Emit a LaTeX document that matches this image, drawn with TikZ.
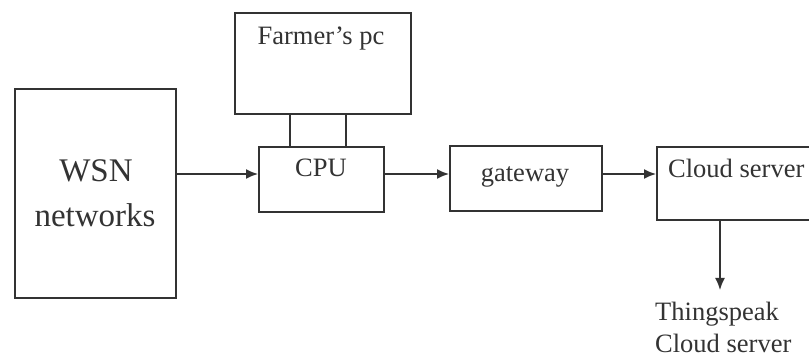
\documentclass[tikz,border=0pt]{standalone}
\usepackage{fontspec}
\setmainfont{Liberation Serif}
\usetikzlibrary{arrows.meta}
\definecolor{ink}{HTML}{333333}
\begin{document}
\begin{tikzpicture}[x=1pt,y=-1pt,
  box/.style={draw=ink,line width=1.6pt,rectangle,inner sep=0pt,anchor=north west},
  lbl/.style={text=ink,font=\fontsize{26.5}{30}\selectfont,anchor=base,inner sep=0pt},
  conn/.style={draw=ink,line width=1.6pt},
  arr/.style={conn,-{Latex[length=12pt,width=10pt]}}]
\useasboundingbox (0,0) rectangle (809,358);
\begin{scope}
\clip (0,0) rectangle (809,358);
\node[box,minimum width=161pt,minimum height=209pt] (wsn) at (14,88) {};
\node[box,minimum width=176pt,minimum height=101pt] (farmer) at (234,12) {};
\node[box,minimum width=125pt,minimum height=65pt] (cpu) at (258,146) {};
\node[box,minimum width=152pt,minimum height=65pt] (gw) at (449,145) {};
\node[box,minimum width=170pt,minimum height=73pt] (cloud) at (656,146) {};
\end{scope}
\node[lbl,font=\fontsize{33}{36}\selectfont] (t1) at (96,182) {WSN};
\node[lbl,font=\fontsize{33}{36}\selectfont] (t2) at (95,227) {networks};
\node[lbl] (t3) at (321,45) {Farmer’s pc};
\node[lbl] (t4) at (321,177) {CPU};
\node[lbl] (t5) at (525,182) {gateway};
\node[lbl,anchor=base west] (t6) at (668,178) {Cloud server};
\node[lbl,anchor=base west] (t7) at (655,320) {Thingspeak};
\node[lbl,anchor=base west] (t8) at (655,352) {Cloud server};
\coordinate (down) at (720,290);
\draw[arr] (wsn.east |- 0,174) -- (cpu.west |- 0,174);
\draw[arr] (cpu.east |- 0,174) -- (gw.west |- 0,174);
\draw[arr] (gw.east |- 0,174) -- (cloud.west |- 0,174);
\draw[arr] (cloud.south -| down) -- (down);
\draw[conn] (farmer.south -| 290,0) -- (cpu.north -| 290,0);
\draw[conn] (farmer.south -| 346,0) -- (cpu.north -| 346,0);
\end{tikzpicture}
\end{document}
